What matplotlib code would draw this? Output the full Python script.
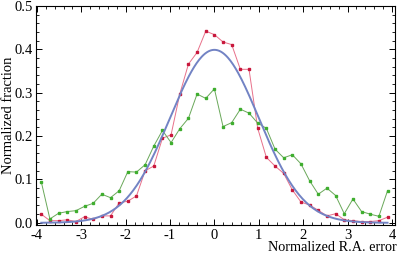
import numpy as np
import matplotlib
matplotlib.use("Agg")
import matplotlib.pyplot as plt
from matplotlib.ticker import MultipleLocator

plt.rcParams["font.family"] = ["Liberation Serif", "DejaVu Serif"]
plt.rcParams["axes.unicode_minus"] = False

# bin centres (41 bins across -4..4)
x_bins = [-3.902, -3.707, -3.512, -3.317, -3.122, -2.927, -2.732, -2.537,
          -2.341, -2.146, -1.951, -1.756, -1.561, -1.366, -1.171, -0.976,
          -0.780, -0.585, -0.390, -0.195, 0.000, 0.195, 0.390, 0.585,
          0.780, 0.976, 1.171, 1.366, 1.561, 1.756, 1.951, 2.146,
          2.341, 2.537, 2.732, 2.927, 3.122, 3.317, 3.512, 3.707, 3.902]

red_frac = [0.020, 0.005, 0.005, 0.007, 0.003, 0.014, 0.008, 0.016,
            0.016, 0.046, 0.050, 0.062, 0.120, 0.131, 0.195, 0.203,
            0.297, 0.366, 0.393, 0.442, 0.434, 0.417, 0.411, 0.354,
            0.354, 0.218, 0.151, 0.131, 0.114, 0.076, 0.048, 0.041,
            0.029, 0.016, 0.021, 0.007, 0.005, 0.003, 0.003, 0.005, 0.013]

green_frac = [0.095, 0.009, 0.022, 0.026, 0.028, 0.038, 0.045, 0.066,
              0.058, 0.074, 0.118, 0.117, 0.134, 0.177, 0.213, 0.185,
              0.217, 0.241, 0.297, 0.287, 0.309, 0.222, 0.231, 0.262,
              0.253, 0.230, 0.218, 0.170, 0.150, 0.157, 0.136, 0.097,
              0.066, 0.080, 0.063, 0.021, 0.055, 0.026, 0.020, 0.015, 0.074]

# reference gaussian (mean, sigma)
gauss_mu = 0.0
gauss_sigma = 1.0

xg = np.linspace(x_bins[0], x_bins[-1], 400)
yg = np.exp(-0.5 * ((xg - gauss_mu) / gauss_sigma) ** 2) / (gauss_sigma * np.sqrt(2 * np.pi))

fig = plt.figure(figsize=(3.99, 2.54), dpi=100)
ax = fig.add_axes([36 / 399, 1 - 225 / 254, (395 - 36) / 399, (225 - 6) / 254])

ax.plot(x_bins, red_frac, color="#e8708a", linewidth=0.7,
        marker="s", markersize=2.0, markerfacecolor="#c8183c", markeredgecolor="#c8183c")
ax.plot(x_bins, green_frac, color="#6aa85a", linewidth=0.7,
        marker="s", markersize=2.0, markerfacecolor="#3fae2f", markeredgecolor="#3fae2f")
ax.plot(xg, yg, color="#7283c4", linewidth=1.4)

ax.set_xlim(-4.02, 4.07)
ax.set_ylim(-0.005, 0.5)
ax.xaxis.set_major_locator(MultipleLocator(1))
ax.xaxis.set_minor_locator(MultipleLocator(0.2))
ax.yaxis.set_major_locator(MultipleLocator(0.1))
ax.yaxis.set_minor_locator(MultipleLocator(0.02))
ax.yaxis.set_major_formatter(plt.FormatStrFormatter("%.1f"))
ax.tick_params(which="both", direction="in", top=True, right=True, labelsize=10.5)
ax.tick_params(axis="y", pad=2)
ax.tick_params(axis="x", pad=3)
ax.tick_params(which="major", length=4, width=0.7)
ax.tick_params(which="minor", length=2, width=0.6)
for s in ax.spines.values():
    s.set_linewidth(0.8)

ax.set_xlabel("Normalized R.A. error", fontsize=10.3, ha="right", va="bottom")
ax.xaxis.set_label_coords(1.005, -0.132)
ax.set_ylabel("Normalized fraction", fontsize=10.5)
ax.yaxis.set_label_coords(-0.058, 0.5)

fig.savefig("out.png", dpi=100)
